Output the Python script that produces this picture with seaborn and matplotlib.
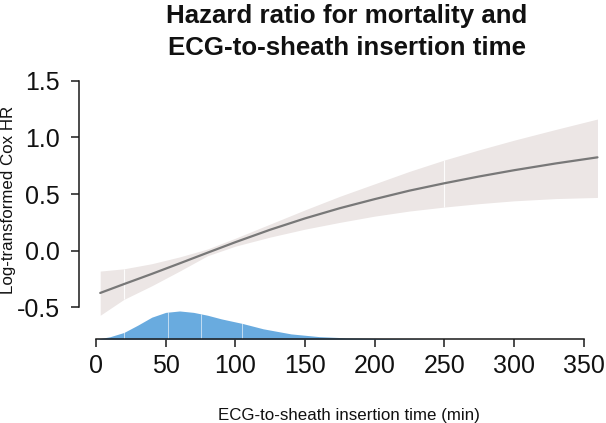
import numpy as np
import pandas as pd
import matplotlib
matplotlib.use("Agg")
import matplotlib.pyplot as plt
import seaborn as sns

# Dados

# curva ajustada (log HR) e intervalo de confiança
tempo = [3, 20, 40, 60, 80, 100, 125, 150, 175, 200, 225, 250, 275, 300, 330, 360]
log_hr = [-0.373, -0.295, -0.205, -0.112, -0.018, 0.075, 0.185, 0.285, 0.375, 0.455,
          0.53, 0.595, 0.655, 0.71, 0.77, 0.824]
ic_sup = [-0.18, -0.16, -0.115, -0.055, 0.015, 0.11, 0.235, 0.36, 0.48, 0.59,
          0.70, 0.80, 0.89, 0.975, 1.07, 1.162]
ic_inf = [-0.57, -0.43, -0.31, -0.18, -0.045, 0.04, 0.12, 0.19, 0.25, 0.305,
          0.35, 0.385, 0.415, 0.44, 0.46, 0.47]

# densidade relativa da distribuição do tempo
dens_x = [0, 10, 20, 30, 40, 50, 60, 70, 80, 90, 105, 120, 140, 160, 180, 200, 220, 250]
dens_rel = [0.0, 0.09, 0.24, 0.50, 0.78, 0.95, 1.0, 0.95, 0.85, 0.72, 0.56, 0.37,
            0.19, 0.095, 0.05, 0.033, 0.018, 0.0]

# posições das "costuras" brancas nos polígonos
costura_banda = [20, 250]
costura_dens = [20, 52, 75, 105]

x_ticks = [0, 50, 100, 150, 200, 250, 300, 350]
y_ticks = [-0.5, 0.0, 0.5, 1.0, 1.5]

df = pd.DataFrame({"tempo": tempo, "log_hr": log_hr, "sup": ic_sup, "inf": ic_inf})

# Estilo
sns.set_theme(style="ticks")
plt.rcParams["font.family"] = ["Liberation Sans", "DejaVu Sans"]

cor_banda = "#ece6e5"
cor_linha = "#787878"
cor_dens = "#69abdf"

fig = plt.figure(figsize=(6.06, 4.23), dpi=100)
ax = fig.add_axes([0.1309, 0.1979, 0.8642, 0.6246])

y_base = -0.782
escala = 0.25

# banda do IC
ax.fill_between(df["tempo"], df["inf"], df["sup"], color=cor_banda, lw=0, zorder=1)
for xc in costura_banda:
    ax.vlines(xc, np.interp(xc, tempo, ic_inf), np.interp(xc, tempo, ic_sup),
              color="white", lw=0.8, alpha=0.9, zorder=2)

# curva
sns.lineplot(data=df, x="tempo", y="log_hr", color=cor_linha, lw=1.6, ax=ax, zorder=3)

# densidade na base
topo = y_base + escala * np.array(dens_rel)
ax.fill_between(dens_x, y_base, topo, color=cor_dens, lw=0, zorder=1)
for xc in costura_dens:
    ax.vlines(xc, y_base, y_base + escala * np.interp(xc, dens_x, dens_rel),
              color="white", lw=0.7, alpha=0.6, zorder=2)

ax.set_xlim(-12, 364)
ax.set_ylim(y_base, 1.55)
ax.set_xticks(x_ticks)
ax.set_yticks(y_ticks)
ax.set_yticklabels([f"{v:.1f}" for v in y_ticks])
ax.set_xlabel("")
ax.set_ylabel("")

sns.despine(ax=ax)
ax.spines["left"].set_bounds(-0.5, 1.5)
ax.spines["bottom"].set_bounds(0, 350)
for s in ["left", "bottom"]:
    ax.spines[s].set_linewidth(1.1)
    ax.spines[s].set_color("#1a1a1a")
ax.tick_params(axis="both", length=5.8, width=1.1, color="#1a1a1a",
               labelsize=18, labelcolor="#111111")
ax.tick_params(axis="x", pad=5)
ax.tick_params(axis="y", pad=8)

# Textos
fig.text(346.7 / 606, 1 - 23.3 / 423, "Hazard ratio for mortality and",
         ha="center", va="baseline", fontsize=18.6, fontweight="bold", color="#111111")
fig.text(346.7 / 606, 1 - 55 / 423, "ECG-to-sheath insertion time",
         ha="center", va="baseline", fontsize=18.6, fontweight="bold", color="#111111")
fig.text(349 / 606, 1 - 420 / 423, "ECG-to-sheath insertion time (min)",
         ha="center", va="baseline", fontsize=12.2, color="#111111")
fig.text(9 / 606, 1 - 200 / 423, "Log-transformed Cox HR",
         ha="center", va="center", rotation=90, fontsize=12.2, color="#111111")

fig.savefig("out.png", dpi=100)
